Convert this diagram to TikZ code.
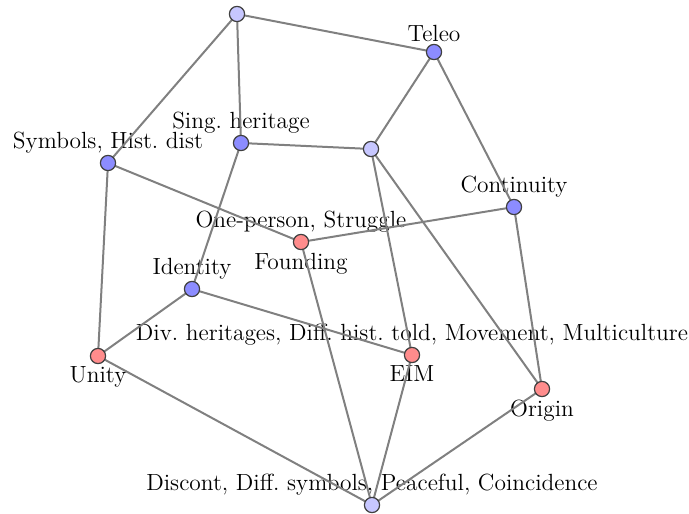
\documentclass[tikz,border=0pt]{standalone}
\begin{document}
\begin{tikzpicture}[x=0.5pt,y=-0.5pt,
  dot/.style={circle,draw=black!75,line width=0.6pt,minimum size=7.6pt,inner sep=0pt},
  blue/.style={dot,fill=blue!45},
  pale/.style={dot,fill=blue!22},
  red/.style={dot,fill=red!45},
  edge/.style={draw=black!50,line width=1pt},
  lbl/.style={inner sep=1pt,font=\fontsize{11.7}{13}\selectfont}]
\useasboundingbox (0,0) rectangle (689,513);
% vertex positions
\coordinate (top) at (237,14);
\coordinate (teleo) at (434,52);
\coordinate (sing) at (241,143);
\coordinate (mid) at (371,149);
\coordinate (sym) at (108,163);
\coordinate (cont) at (514,207);
\coordinate (found) at (301,242);
\coordinate (ident) at (192,289);
\coordinate (unity) at (98,356);
\coordinate (eim) at (412,355);
\coordinate (orig) at (542,389);
\coordinate (bot) at (372,505);
% labels
\node[lbl,anchor=south] (lteleo) at ([yshift=3.7pt]teleo) {Teleo};
\node[lbl,anchor=south] (lsing) at ([yshift=3.7pt]sing) {Sing.\ heritage};
\node[lbl,anchor=south] (lsym) at ([yshift=3.7pt]sym) {Symbols, Hist.\ dist};
\node[lbl,anchor=south] (lcont) at ([yshift=3.7pt]cont) {Continuity};
\node[lbl,anchor=south] (lfound) at ([yshift=3.7pt]found) {One-person, Struggle};
\node[lbl,anchor=north] (lfound2) at ([yshift=-4.3pt]found) {Founding};
\node[lbl,anchor=south] (lident) at ([yshift=3.7pt]ident) {Identity};
\node[lbl,anchor=north] (lunity) at ([yshift=-4.3pt]unity) {Unity};
\node[lbl,anchor=south] (leim) at ([yshift=3.7pt]eim) {Div.\ heritages, Diff.\ hist.\ told, Movement, Multiculture};
\node[lbl,anchor=north] (leim2) at ([yshift=-4.3pt]eim) {EIM};
\node[lbl,anchor=north] (lorig) at ([yshift=-4.3pt]orig) {Origin};
\node[lbl,anchor=south] (lbot) at ([yshift=3.7pt]bot) {Discont, Diff.\ symbols, Peaceful, Coincidence};
% edges
\foreach \a/\b in {top/teleo,top/sing,top/sym,teleo/mid,teleo/cont,sing/mid,sing/ident,
  mid/eim,mid/orig,sym/found,sym/unity,found/cont,found/bot,ident/unity,ident/eim,
  unity/bot,eim/bot,orig/bot,cont/orig}
  \draw[edge] (\a) -- (\b);
% vertices
\node[pale] (ntop) at (top) {};
\node[blue] (nteleo) at (teleo) {};
\node[blue] (nsing) at (sing) {};
\node[pale] (nmid) at (mid) {};
\node[blue] (nsym) at (sym) {};
\node[blue] (ncont) at (cont) {};
\node[red] (nfound) at (found) {};
\node[blue] (nident) at (ident) {};
\node[red] (nunity) at (unity) {};
\node[red] (neim) at (eim) {};
\node[red] (norig) at (orig) {};
\node[pale] (nbot) at (bot) {};
\end{tikzpicture}
\end{document}
